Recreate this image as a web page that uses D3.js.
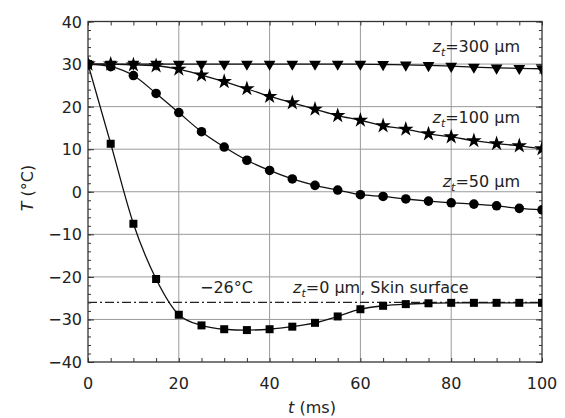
<!DOCTYPE html>
<html><head><meta charset="utf-8">
<script src="https://cdn.jsdelivr.net/npm/d3@7"></script>
<style>body{margin:0;background:#fff}svg{display:block;font-family:"DejaVu Sans",Arial,sans-serif}</style>
</head><body>
<svg id="c" width="565" height="418"></svg>
<script>
const times = [0,5,10,15,20,25,30,35,40,45,50,55,60,65,70,75,80,85,90,95,100];
const z0 = [30,11.3,-7.5,-20.5,-28.9,-31.4,-32.3,-32.5,-32.3,-31.7,-30.8,-29.3,-27.6,-26.8,-26.4,-26.2,-26.1,-26.1,-26.1,-26.1,-26.1];
const z50 = [30,29.4,27.3,23.1,18.6,14.1,10.5,7.4,5.0,3.0,1.5,0.4,-0.7,-1.1,-1.7,-2.2,-2.6,-2.9,-3.3,-3.9,-4.25];
const z100 = [30,30,29.8,29.6,28.8,27.4,25.9,24.2,22.4,20.9,19.4,17.9,16.8,15.5,14.7,13.6,12.9,12.0,11.3,10.8,10.1];
const z300 = [30,30,30,30,30,30,30,30,30,30,30,30,30,29.9,29.8,29.7,29.5,29.3,29.1,29.0,28.9];
const xTicks = [0,20,40,60,80,100];
const yTicks = [40,30,20,10,0,-10,-20,-30,-40];
const refTemp = -26;

const svg = d3.select("#c");
const L=88,R=542,T=21.5,B=362;
const x = d3.scaleLinear().domain([0,100]).range([L,R]);
const y = d3.scaleLinear().domain([-40,40]).range([B,T]);

svg.append("defs").append("clipPath").attr("id","clip").append("rect")
  .attr("x",L).attr("y",T).attr("width",R-L).attr("height",B-T);

// grid
const g = svg.append("g");
g.selectAll(".gx").data(xTicks.slice(1,-1)).join("line")
  .attr("x1",d=>x(d)).attr("x2",d=>x(d)).attr("y1",T).attr("y2",B)
  .attr("stroke","#9a9a9a").attr("stroke-width",1);
g.selectAll(".gy").data(yTicks.slice(1,-1)).join("line")
  .attr("y1",d=>y(d)).attr("y2",d=>y(d)).attr("x1",L).attr("x2",R)
  .attr("stroke","#9a9a9a").attr("stroke-width",1);

// reference line
svg.append("line").attr("x1",L).attr("x2",R).attr("y1",y(refTemp)).attr("y2",y(refTemp))
  .attr("stroke","#222").attr("stroke-width",1.2).attr("stroke-dasharray","9,3,2,3");

// axes with inward ticks
const minorX = d3.range(0,101,5), minorY = d3.range(-40,41,2);
const axB = d3.axisBottom(x).tickValues(minorX).tickSize(-4).tickFormat("");
const axT = d3.axisTop(x).tickValues(minorX).tickSize(-4).tickFormat("");
const axL = d3.axisLeft(y).tickValues(minorY).tickSize(-3).tickFormat("");
const axR = d3.axisRight(y).tickValues(minorY).tickSize(-3).tickFormat("");
const axLm = d3.axisLeft(y).tickValues(yTicks).tickSize(-6).tickFormat("");
const axRm = d3.axisRight(y).tickValues(yTicks).tickSize(-6).tickFormat("");
[[axB,`translate(0,${B})`],[axT,`translate(0,${T})`],[axL,`translate(${L},0)`],[axR,`translate(${R},0)`],[axLm,`translate(${L},0)`],[axRm,`translate(${R},0)`]]
.forEach(([a,tr])=>{
  const s = svg.append("g").attr("transform",tr).call(a);
  s.select(".domain").remove();
  s.selectAll("line").attr("stroke","#333").attr("stroke-width",1);
});
svg.append("rect").attr("x",L).attr("y",T).attr("width",R-L).attr("height",B-T)
  .attr("fill","none").attr("stroke","#333").attr("stroke-width",1.3);

// tick labels
svg.selectAll(".xl").data(xTicks).join("text")
  .attr("x",d=>x(d)).attr("y",389).attr("text-anchor","middle")
  .attr("font-size",16).attr("fill","#222").text(d=>d);
svg.selectAll(".yl").data(yTicks).join("text")
  .attr("x",82).attr("y",d=>y(d)+6).attr("text-anchor","end")
  .attr("font-size",16).attr("fill","#222").text(d=>d<0?"\u2212"+(-d):d);

// axis titles
const xt = svg.append("text").attr("x",312).attr("y",413).attr("text-anchor","middle").attr("font-size",16).attr("fill","#222");
xt.append("tspan").attr("font-style","italic").text("t");
xt.append("tspan").text(" (ms)");
const yt = svg.append("text").attr("transform","translate(33,188) rotate(-90)").attr("text-anchor","middle").attr("font-size",16).attr("fill","#222");
yt.append("tspan").attr("font-style","italic").text("T");
yt.append("tspan").text(" (\u00B0C)");

// series
const series = [
  {vals:z0, sym:d3.symbolSquare, size:64},
  {vals:z50, sym:d3.symbolCircle, size:72},
  {vals:z100, sym:d3.symbolStar, size:75},
  {vals:z300, sym:d3.symbolTriangle, size:60, rot:180}
];
const line = d3.line().x(d=>x(d[0])).y(d=>y(d[1])).curve(d3.curveMonotoneX);
const plot = svg.append("g").attr("clip-path","url(#clip)");
series.forEach(s=>{
  const pts = times.map((t,i)=>[t,s.vals[i]]);
  plot.append("path").attr("d",line(pts)).attr("fill","none").attr("stroke","#111").attr("stroke-width",1.3);
  plot.selectAll(null).data(pts).join("path")
    .attr("d",d3.symbol().type(s.sym).size(s.size))
    .attr("transform",d=>`translate(${x(d[0])},${y(d[1])})${s.rot?` rotate(${s.rot})`:""}`)
    .attr("fill","#000");
});

// labels
function zlabel(xr, yb, rest, anchor){
  const t = svg.append("text").attr("x",xr).attr("y",yb).attr("text-anchor",anchor||"end").attr("font-size",16).attr("fill","#222");
  t.append("tspan").attr("font-style","italic").text("z");
  t.append("tspan").attr("font-style","italic").attr("font-size",11).attr("dy",4).text("t");
  t.append("tspan").attr("dy",-4).text(rest);
  return t;
}
zlabel(520,52,"=300 \u03BCm");
zlabel(520,123,"=100 \u03BCm");
zlabel(520,187,"=50 \u03BCm");
zlabel(293,293,"=0 \u03BCm, Skin surface","start");
svg.append("text").attr("x",200).attr("y",293).attr("font-size",16).attr("fill","#222").text("\u221226\u00B0C");
</script>
</body></html>
